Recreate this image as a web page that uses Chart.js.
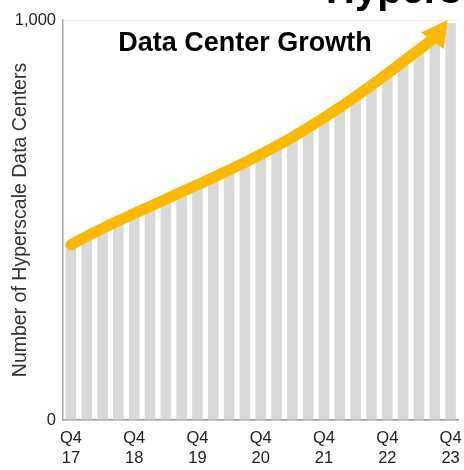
<!DOCTYPE html>
<html>
<head>
<meta charset="utf-8">
<script src="https://cdn.jsdelivr.net/npm/chart.js@4"></script>
<style>
  html, body { margin: 0; padding: 0; background: #fff; }
  #wrap { width: 464px; height: 470px; position: relative; }
</style>
</head>
<body>
<div id="wrap"><canvas id="chart"></canvas></div>
<script>
const quarters = [
  'Q4 17', 'Q1 18', 'Q2 18', 'Q3 18', 'Q4 18', 'Q1 19', 'Q2 19', 'Q3 19', 'Q4 19',
  'Q1 20', 'Q2 20', 'Q3 20', 'Q4 20', 'Q1 21', 'Q2 21', 'Q3 21', 'Q4 21',
  'Q1 22', 'Q2 22', 'Q3 22', 'Q4 22', 'Q1 23', 'Q2 23', 'Q3 23', 'Q4 23'
];
const dataCenters = [
  429, 450, 470, 489, 507, 525, 543, 561, 579, 597, 616, 635, 655,
  676, 698, 722, 747, 773, 800, 828, 857, 887, 917, 947, 992
];
// growth arrow, last value is where the arrow head points
const trend = [
  438, 459, 479, 498, 516, 534, 552, 570, 588, 606, 625, 644, 664,
  685, 707, 731, 756, 782, 809, 837, 866, 896, 926, 956, 1000
];
const yTicks = [0, 1000];

const FONT = "'Liberation Sans', Arial, sans-serif";
const ARROW = '#FBB900';

const arrowHead = {
  id: 'arrowHead',
  afterDatasetsDraw(chart) {
    const { ctx, scales: { x, y } } = chart;
    const n = trend.length - 1;
    const tx = x.getPixelForValue(n) - 3, ty = y.getPixelForValue(trend[n]);
    const bx = x.getPixelForValue(n - 1), by = y.getPixelForValue(trend[n - 1]);
    const len = Math.hypot(tx - bx, ty - by);
    const ux = (tx - bx) / len, uy = (ty - by) / len;
    const half = 14;
    const cx = bx - ux * 4, cy = by - uy * 4;
    ctx.save();
    ctx.fillStyle = ARROW;
    ctx.beginPath();
    ctx.moveTo(tx, ty);
    ctx.lineTo(cx - uy * half, cy + ux * half);
    ctx.lineTo(cx + uy * half, cy - ux * half);
    ctx.closePath();
    ctx.fill();
    ctx.restore();
  }
};

const headings = {
  id: 'headings',
  afterDraw(chart) {
    const ctx = chart.ctx;
    ctx.save();
    ctx.fillStyle = '#000';
    ctx.textBaseline = 'alphabetic';
    ctx.textAlign = 'left';
    ctx.font = 'bold 40px ' + FONT;
    ctx.fillText('Hyperscale', 326, 3);
    ctx.textAlign = 'center';
    ctx.font = 'bold 27px ' + FONT;
    ctx.fillText('Data Center Growth', 245, 51);
    ctx.restore();
  }
};

new Chart(document.getElementById('chart'), {
  data: {
    labels: quarters,
    datasets: [
      {
        type: 'line',
        data: trend.slice(0, -1),
        order: 0,
        borderColor: ARROW,
        borderWidth: 11,
        borderCapStyle: 'butt',
        cubicInterpolationMode: 'monotone',
        pointRadius: c => (c.dataIndex === 0 ? 5.5 : 0),
        pointBackgroundColor: ARROW,
        pointBorderWidth: 0
      },
      {
        type: 'bar',
        data: dataCenters,
        order: 1,
        backgroundColor: '#D9D9D9',
        barPercentage: 0.67,
        categoryPercentage: 1
      }
    ]
  },
  options: {
    responsive: true,
    maintainAspectRatio: false,
    animation: false,
    events: [],
    layout: { padding: { top: 20, left: 0, right: 0, bottom: 0 } },
    plugins: { legend: { display: false }, tooltip: { enabled: false } },
    scales: {
      x: {
        grid: { display: false, drawTicks: false },
        border: { color: '#9a9a9a', width: 1.5 },
        ticks: {
          autoSkip: false,
          maxRotation: 0,
          padding: 8,
          color: '#222',
          font: { family: FONT, size: 16.5, lineHeight: 1.25 },
          callback(v) {
            const l = this.getLabelForValue(v);
            return l.startsWith('Q4') ? l.split(' ') : '';
          }
        },
        afterFit(s) { s.height = 50; s.paddingLeft = 0; s.paddingRight = 0; }
      },
      y: {
        min: 0,
        max: 1000,
        afterBuildTicks(s) { s.ticks = yTicks.map(v => ({ value: v })); },
        grid: { color: '#eeeeee', drawTicks: false },
        border: { color: '#a8a8a8', width: 1.5 },
        ticks: {
          padding: 7,
          color: '#222',
          font: { family: FONT, size: 16.5 }
        },
        title: {
          display: true,
          text: 'Number of Hyperscale Data Centers',
          color: '#333',
          font: { family: FONT, size: 19.5 },
          padding: { top: 9, bottom: 0 }
        },
        afterFit(s) { s.width = 63; }
      }
    }
  },
  plugins: [arrowHead, headings]
});
</script>
</body>
</html>
